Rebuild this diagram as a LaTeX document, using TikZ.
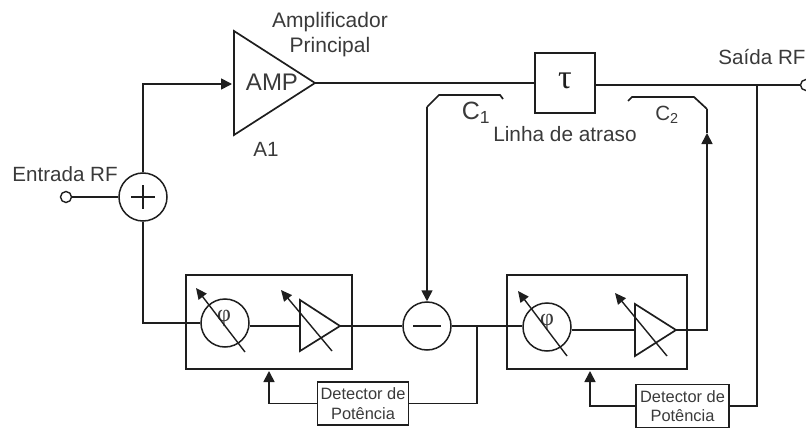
\documentclass[tikz,border=0pt]{standalone}
\usepackage{fontspec}
\setmainfont{Liberation Sans}
\newfontfamily\greekfont{Liberation Serif}
\usepackage{tikz}
\usetikzlibrary{arrows.meta,positioning,calc}
\definecolor{inkdark}{HTML}{1E1E1E}
\definecolor{textdark}{HTML}{3A3A3A}
\newcommand{\fsz}[1]{\fontsize{#1}{#1}\selectfont}

\tikzset{
    wire/.style={line width=1.7pt, draw=inkdark, line join=miter},
    sig/.style={wire, -{Triangle[length=11pt,width=11pt]}},
    tune/.style={line width=1.4pt, draw=inkdark, -{Triangle[length=11pt,width=10pt]}},
    mixer/.style={circle, draw=inkdark, line width=1.5pt, minimum size=48pt, inner sep=0pt},
    port/.style={circle, draw=inkdark, line width=1.4pt, minimum size=11pt, inner sep=0pt},
    lbl/.style={text=textdark, inner sep=0pt, align=center, font=\fsz{20.6}},
    detbox/.style={rectangle, draw=inkdark, line width=1.5pt, minimum width=91pt, minimum height=43pt,
        inner sep=0pt, align=center, text=textdark, font=\fsz{16.4}},
    ctrlbox/.style={rectangle, draw=inkdark, line width=1.7pt, minimum height=94pt, inner sep=0pt}
}

\begin{document}
\begin{tikzpicture}[x=1pt,y=-1pt]
    \useasboundingbox (0,0) rectangle (806,428);

    % entrada e amplificador principal
    \node[port] (inport) at (66,197) {};
    \node[mixer] (sum) at (143,197) {};
    \draw[wire] (131,197) -- (155,197) (143,185) -- (143,209);
    \node[lbl] (inlabel) at (65,174) {Entrada RF};
    \coordinate (ampa) at (234,31);
    \coordinate (ampb) at (234,135);
    \coordinate (ampout) at (315,83);
    \coordinate (ampin) at (232,84);
    \draw[wire] (ampa) -- (ampb) -- (ampout) -- cycle;
    \node[lbl, font=\fsz{24}] (amptext) at (272,82) {AMP};
    \node[lbl, font=\fsz{21}] (amplabel) at (330,35) {Amplificador\\[4pt]Principal};
    \node[lbl] (aone) at (266,149) {A1};
    \draw[wire] (inport) -- (sum);
    \draw[sig] (sum.north) |- (ampin);

    % linha de atraso
    \node[rectangle, draw=inkdark, line width=1.7pt, minimum size=60pt, inner sep=0pt] (delay) at (565,83) {};
    \node[inner sep=0pt, text=inkdark, font=\greekfont\fsz{34}] (tau) at (565,81) {τ};
    \node[lbl, font=\fsz{20.8}] (delaylabel) at (565,134) {Linha de atraso};
    \node[port] (outport) at (806,85) {};
    \node[lbl] (outlabel) at (762,57) {Saída RF};
    \coordinate (tapout) at (757,85);
    \draw[wire] (ampout) -- (ampout -| delay.west);
    \draw[wire] (delay.east |- outport) -- (outport);

    % acopladores
    \coordinate (cone) at (427,107);
    \coordinate (ctwo) at (707,109);
    \draw[wire] (503,99) -- (500,95) -- (439,95) -- (cone);
    \draw[wire] (628,101) -- (632,97) -- (694,97) -- (ctwo);
    \node[lbl, font=\fsz{25}] (clone) at (476,113) {C\textsubscript{1}};
    \node[lbl] (cltwo) at (667,115) {C\textsubscript{2}};

    % subtrator
    \node[mixer] (diff) at (427,326) {};
    \draw[wire] (413,326) -- (441,326);
    \draw[sig] (cone) -- (diff.north);

    % ramo esquerdo
    \node[ctrlbox, minimum width=166pt] (boxa) at (269,322) {};
    \node[mixer] (phia) at (225,323) {};
    \node[inner sep=0pt, text=textdark, font=\greekfont\fsz{24}] (phiatext) at (224,318) {φ};
    \coordinate (gaina) at (300,300);
    \coordinate (gainb) at (300,351);
    \coordinate (gainout) at (340,326);
    \coordinate (gainin) at (300,326);
    \draw[wire] (gaina) -- (gainb) -- (gainout) -- cycle;
    \draw[tune] (245,352) -- (196,288);
    \draw[tune] (332,351) -- (281,290);
    \draw[wire] (sum.south) |- (phia.west);
    \draw[wire] (phia.east |- gainin) -- (gainin);
    \draw[wire] (gainout) -- (diff.west);

    % ramo direito
    \node[ctrlbox, minimum width=180pt] (boxb) at (597,322) {};
    \node[mixer] (phib) at (547,327) {};
    \node[inner sep=0pt, text=textdark, font=\greekfont\fsz{24}] (phibtext) at (547,322) {φ};
    \coordinate (gainc) at (635,304);
    \coordinate (gaind) at (635,356);
    \coordinate (gainoutb) at (676,330);
    \coordinate (gaininb) at (635,330);
    \draw[wire] (gainc) -- (gaind) -- (gainoutb) -- cycle;
    \draw[tune] (567,356) -- (518,291);
    \draw[tune] (667,356) -- (615,293);
    \draw[wire] (diff.east) -- (phib.west |- diff);
    \draw[wire] (phib.east |- gaininb) -- (gaininb);
    \coordinate (uptip) at (707,133);
    \draw[sig] (gainoutb) -| (uptip);
    \draw[wire] (uptip) -- (ctwo);

    % detectores de potencia
    \node[detbox] (deta) at (363,403.5) {Detector de\\[3pt]Potência};
    \node[detbox, minimum width=93pt] (detb) at (682.5,406) {Detector de\\[3pt]Potência};
    \coordinate (tapin) at (477,326);
    \draw[wire] (tapin) |- (deta.east);
    \draw[sig] (deta.west) -| (269,371);
    \draw[wire] (tapout) |- (detb.east);
    \draw[sig] (detb.west) -| (590,371);
\end{tikzpicture}
\end{document}
